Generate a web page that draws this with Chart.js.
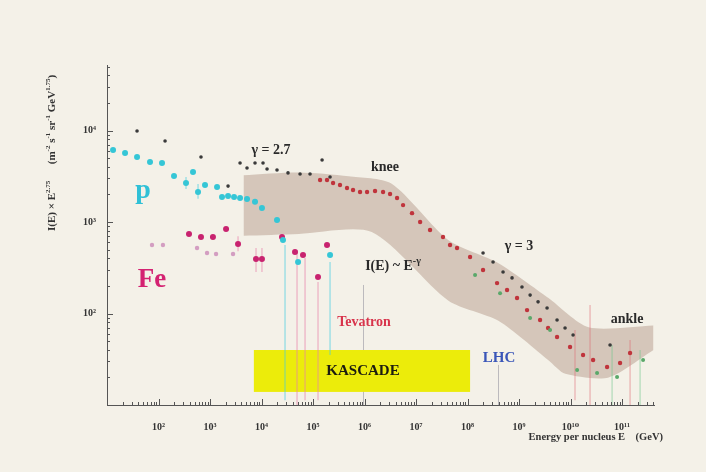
<!DOCTYPE html>
<html>
<head>
<meta charset="utf-8">
<script src="https://cdn.jsdelivr.net/npm/chart.js@4.4.0/dist/chart.umd.min.js"></script>
<style>
    html, body { margin: 0; padding: 0; background: #f4f1e8; }
    #wrap { width: 706px; height: 472px; position: relative; }
</style>
</head>
<body>
<div id="wrap"><canvas id="grafico" width="706" height="472"></canvas></div>
<script>
// ========================================
// Espectro de raios cósmicos - I(E) x E^2.75
// ========================================

// --- Dados (E em GeV) ---
const protonE = [13.1, 22.4, 38.3, 68.4, 117, 200, 342, 468, 585, 800, 1370, 1710, 2240, 2930, 3830, 5230, 7480, 10200, 20000, 26100, 51200, 214000];
const protonI = [6120, 5680, 5130, 4530, 4420, 3190, 2670, 3520, 2130, 2540, 2410, 1880, 1920, 1880, 1830, 1780, 1660, 1420, 1050, 635, 366, 436];

const ironE = [391, 668, 1140, 2050, 3500, 7820, 10200, 25000, 44700, 63900, 125000, 187000];
const ironI = [740, 686, 686, 838, 575, 394, 394, 686, 470, 436, 251, 561];

const ironOtherE = [74.8, 122, 560, 875, 1310, 2800];
const ironOtherI = [561, 561, 520, 458, 447, 447];

const allE = [38.3, 134, 668, 2240, 3830, 5230, 7480, 10700, 12800, 20000, 32700, 56000, 87500, 150000, 214000,
              2.0e8, 3.13e8, 4.89e8, 7.31e8, 1.14e9, 1.64e9, 2.34e9, 3.5e9, 5.47e9, 7.82e9, 1.12e10, 5.85e10];
const allI = [9890, 7670, 5130, 2470, 4420, 3890, 4420, 4420, 3790, 3700, 3440, 3350, 3350, 4770, 3100,
              458, 366, 284, 245, 195, 159, 134, 115, 84.9, 69.5, 58.2, 45.3];

const airE = [1.37e5, 1.87e5, 2.45e5, 3.34e5, 4.57e5, 5.98e5, 8.18e5, 1.12e6, 1.60e6, 2.29e6, 3.13e6, 4.28e6,
              5.60e6, 8.36e6, 1.20e7, 1.87e7, 3.34e7, 4.57e7, 6.25e7, 1.12e8, 2.0e8, 3.74e8, 5.85e8, 9.14e8,
              1.43e9, 2.56e9, 3.66e9, 5.47e9, 9.78e9, 1.75e10, 2.74e10, 5.12e10, 9.15e10, 1.43e11];
const airI = [2880, 2880, 2670, 2540, 2350, 2240, 2130, 2130, 2180, 2130, 2020, 1830,
              1530, 1250, 1000, 818, 686, 561, 520, 414, 299, 215, 181, 148,
              109, 84.9, 69.5, 55.3, 43.1, 35.2, 31.0, 26.0, 28.8, 37.0];

const greenE = [1.40e8, 4.28e8, 1.64e9, 4.0e9, 1.34e10, 3.27e10, 8.0e10, 2.56e11];
const greenI = [264, 167, 89.3, 66.1, 24.2, 22.4, 20.2, 31.0];

// faixa sombreada (borda superior e inferior)
const bandUpE = [4.47e3, 5.25e4, 4.9e5, 3.31e6, 4.27e7, 3.98e8, 3.72e9, 2.24e10, 4.07e11];
const bandUpI = [3240, 3470, 3160, 2630, 631, 355, 148, 70.8, 74.1];
const bandLowE = [4.47e3, 5.25e4, 1.38e6, 4.27e7, 3.98e8, 3.72e9, 7.94e9, 5.5e10, 4.07e11];
const bandLowI = [708, 741, 776, 138, 83.2, 30.9, 21.9, 20.0, 39.8];

// barras de erro / limites (verticais)
const cyanErrE = [342, 585, 28600, 214000];
const cyanErrLo = [2300, 1800, 11.3, 35.2];
const cyanErrHi = [3100, 2600, 561, 366];
const pinkErrE = [3500, 7820, 10200, 48900, 70000, 125000];
const pinkErrLo = [480, 284, 284, 10, 11.3, 11.3];
const pinkErrHi = [700, 520, 520, 494, 404, 221];
const redErrE = [1.22e10, 2.39e10, 1.43e11];
const redErrLo = [11.3, 10, 10];
const redErrHi = [66.1, 124, 51.3];
const greenErrE = [6.4e10, 2.24e11];
const greenErrLo = [10, 10];
const greenErrHi = [45.3, 39.9];

// aceleradores e experimento
const markerE = [9.3e5, 3.9e8];
const markerTopI = [205, 27.4];
const kascadeE = [7.1e3, 1.12e8];
const kascadeI = [13.9, 39.9];

// escalas
const xMin = 10, xMax = 4.17e11;
const yMin = 10, yMax = 5.2e4;

// ========================================
const serif = "'Liberation Serif', 'DejaVu Serif', serif";
const SUP = { '0': '⁰', '1': '¹', '2': '²', '3': '³', '4': '⁴', '5': '⁵', '6': '⁶', '7': '⁷', '8': '⁸', '9': '⁹' };

function pontos(xs, ys) { return xs.map((v, i) => ({ x: v, y: ys[i] })); }
function barras(xs, lo, hi) {
    const out = [];
    xs.forEach((v, i) => { out.push({ x: v, y: lo[i] }, { x: v, y: hi[i] }, { x: v, y: null }); });
    return out;
}

function ticksLog(scale) {
    const ticks = [];
    const e0 = Math.floor(Math.log10(scale.min));
    const e1 = Math.ceil(Math.log10(scale.max));
    for (let e = e0; e <= e1; e++) {
        for (let m = 1; m < 10; m++) {
            const v = m * Math.pow(10, e);
            if (v >= scale.min * 0.999 && v <= scale.max) ticks.push({ value: v, major: m === 1 });
        }
    }
    scale.ticks = ticks;
}
function rotuloPotencia(value) {
    const e = Math.log10(value);
    const r = Math.round(e);
    if (Math.abs(e - r) > 1e-6 || r < 2) return '';
    return '10' + String(r).split('').map(c => SUP[c]).join('');
}

// texto com expoentes: partes = [[texto, sobrescrito?], ...]
function textoRico(c, partes, x, y, size, align) {
    const small = Math.round(size * 0.68);
    let total = 0;
    partes.forEach(p => {
        c.font = `bold ${p[1] ? small : size}px ${serif}`;
        total += c.measureText(p[0]).width;
    });
    let cx = align === 'center' ? x - total / 2 : (align === 'right' ? x - total : x);
    c.textAlign = 'left';
    c.textBaseline = 'alphabetic';
    partes.forEach(p => {
        c.font = `bold ${p[1] ? small : size}px ${serif}`;
        c.fillText(p[0], cx, p[1] ? y - size * 0.42 : y);
        cx += c.measureText(p[0]).width;
    });
}

// rótulos na área do gráfico (posição em coordenadas dos dados)
const rotulos = [
    { t: 'γ = 2.7', e: 1.53e4, i: 6120, cor: '#2a2a2a', tam: 14 },
    { t: 'knee', e: 2.5e6, i: 3990, cor: '#2a2a2a', tam: 14 },
    { t: 'γ = 3', e: 1.0e9, i: 547, cor: '#2a2a2a', tam: 14 },
    { t: 'ankle', e: 1.25e11, i: 87.1, cor: '#2a2a2a', tam: 14 },
    { t: 'Tevatron', e: 9.77e5, i: 80.7, cor: '#d8344c', tam: 14 },
    { t: 'LHC', e: 4.09e8, i: 32.7, cor: '#3a56b8', tam: 15 },
    { t: 'KASCADE', e: 9.35e5, i: 23.6, cor: '#1c1c10', tam: 15 },
    { t: 'p', e: 50, i: 2180, cor: '#2fc0d6', tam: 28 },
    { t: 'Fe', e: 74.8, i: 232, cor: '#d42272', tam: 27 }
];

const decoracoes = {
    id: 'decoracoes',
    beforeDatasetsDraw(chart) {
        const { ctx: c, scales: { x, y } } = chart;
        c.save();
        // linhas verticais (Tevatron, LHC)
        c.strokeStyle = 'rgba(150,150,160,0.6)';
        c.lineWidth = 1;
        markerE.forEach((e, k) => {
            const px = Math.round(x.getPixelForValue(e)) + 0.5;
            c.beginPath();
            c.moveTo(px, y.getPixelForValue(markerTopI[k]));
            c.lineTo(px, y.bottom);
            c.stroke();
        });
        // caixa KASCADE
        const x0 = x.getPixelForValue(kascadeE[0]);
        const x1 = x.getPixelForValue(kascadeE[1]);
        const y0 = y.getPixelForValue(kascadeI[1]);
        const y1 = y.getPixelForValue(kascadeI[0]);
        c.fillStyle = '#ecec0a';
        c.fillRect(x0, y0, x1 - x0, y1 - y0);
        c.restore();
    },
    afterDatasetsDraw(chart) {
        const { ctx: c, scales: { x, y } } = chart;
        c.save();
        rotulos.forEach(r => {
            c.fillStyle = r.cor;
            c.font = `bold ${r.tam}px ${serif}`;
            c.textAlign = 'center';
            c.textBaseline = 'middle';
            c.fillText(r.t, x.getPixelForValue(r.e), y.getPixelForValue(r.i));
        });
        c.fillStyle = '#2a2a2a';
        textoRico(c, [['I(E) ~ E', false], ['-γ', true]], x.getPixelForValue(3.57e6), y.getPixelForValue(339) + 5, 14, 'center');
        c.restore();
    },
    afterDraw(chart) {
        const { ctx: c, scales: { x, y } } = chart;
        c.save();
        c.strokeStyle = '#555';
        c.lineWidth = 1;
        // ticks para dentro
        x.ticks.forEach(t => {
            const px = Math.round(x.getPixelForValue(t.value)) + 0.5;
            c.beginPath();
            c.moveTo(px, y.bottom);
            c.lineTo(px, y.bottom - (t.major ? 6 : 3));
            c.stroke();
        });
        y.ticks.forEach(t => {
            const py = Math.round(y.getPixelForValue(t.value)) + 0.5;
            c.beginPath();
            c.moveTo(x.left, py);
            c.lineTo(x.left + (t.major ? 6 : 3), py);
            c.stroke();
        });
        // títulos dos eixos
        c.fillStyle = '#333';
        textoRico(c, [['Energy per nucleus E    (GeV)', false]], 663, 440, 10.5, 'right');
        c.translate(51, 153);
        c.rotate(-Math.PI / 2);
        textoRico(c, [['I(E) × E', false], ['2.75', true], ['      (m', false], ['-2', true], [' s', false], ['-1', true],
                      [' sr', false], ['-1', true], [' GeV', false], ['1.75', true], [')', false]], 0, 4, 11, 'center');
        c.restore();
    }
};

const ctx = document.getElementById('grafico').getContext('2d');

const linhaErro = (data, cor) => ({
    data, showLine: true, borderColor: cor, borderWidth: 1.2, pointRadius: 0, fill: false, order: 8
});
const serie = (data, cor, raio) => ({
    data, showLine: false, backgroundColor: cor, borderColor: cor, pointRadius: raio, pointBorderWidth: 0, order: 1
});

new Chart(ctx, {
    type: 'scatter',
    data: {
        datasets: [
            {
                data: pontos(bandUpE, bandUpI), showLine: true, tension: 0.25, borderWidth: 0,
                borderColor: 'rgba(0,0,0,0)', pointRadius: 0, fill: '+1',
                backgroundColor: 'rgba(182,156,140,0.5)', order: 10
            },
            {
                data: pontos(bandLowE, bandLowI), showLine: true, tension: 0.25, borderWidth: 0,
                borderColor: 'rgba(0,0,0,0)', pointRadius: 0, fill: false, order: 10
            },
            linhaErro(barras(cyanErrE, cyanErrLo, cyanErrHi), 'rgba(70,205,225,0.6)'),
            linhaErro(barras(pinkErrE, pinkErrLo, pinkErrHi), 'rgba(232,130,170,0.6)'),
            linhaErro(barras(redErrE, redErrLo, redErrHi), 'rgba(225,110,120,0.5)'),
            linhaErro(barras(greenErrE, greenErrLo, greenErrHi), 'rgba(110,200,140,0.5)'),
            serie(pontos(ironOtherE, ironOtherI), 'rgba(200,130,180,0.75)', 2.2),
            serie(pontos(greenE, greenI), '#5aa86a', 2),
            serie(pontos(airE, airI), '#c0343c', 2.2),
            serie(pontos(protonE, protonI), '#35c6d6', 3),
            serie(pontos(ironE, ironI), '#c8236f', 3),
            serie(pontos(allE, allI), '#3a3a3a', 1.8)
        ]
    },
    options: {
        responsive: false,
        animation: false,
        events: [],
        layout: { padding: { left: 0, right: 52, top: 65, bottom: 0 } },
        plugins: { legend: { display: false }, tooltip: { enabled: false } },
        scales: {
            x: {
                type: 'logarithmic', min: xMin, max: xMax,
                grid: { display: false },
                border: { display: true, color: '#555', width: 1 },
                afterBuildTicks: ticksLog,
                afterFit: s => { s.height = 67; },
                ticks: {
                    autoSkip: false, maxRotation: 0, padding: 8, color: '#333',
                    font: { family: serif, size: 10, weight: 'bold' },
                    callback: rotuloPotencia
                }
            },
            y: {
                type: 'logarithmic', min: yMin, max: yMax,
                grid: { display: false },
                border: { display: true, color: '#555', width: 1 },
                afterBuildTicks: ticksLog,
                afterFit: s => { s.width = 107; },
                ticks: {
                    autoSkip: false, padding: 3, color: '#333',
                    font: { family: serif, size: 10, weight: 'bold' },
                    callback: rotuloPotencia
                }
            }
        }
    },
    plugins: [decoracoes]
});
</script>
</body>
</html>
